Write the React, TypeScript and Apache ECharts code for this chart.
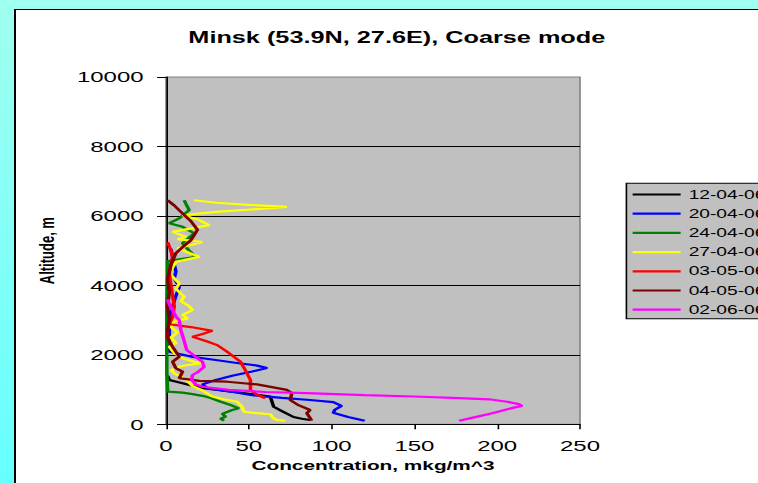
import React, { useEffect, useRef } from "react";
import * as echarts from "echarts";

const seriesNames = ["12-04-06", "20-04-06", "24-04-06", "27-04-06", "03-05-06", "04-05-06", "02-06-06"];
const seriesColors = ["#000000", "#0000FF", "#008000", "#FFFF00", "#FF0000", "#800000", "#FF00FF"];

const xTicks = { min: 0, max: 250, interval: 50 };
const yTicks = { min: 0, max: 10000, interval: 2000 };

// [concentration, altitude]
const s1204 = [[1,1400],[2,1275],[10,1180],[21,1045],[35,970],[50,880],[63,795],[64,650],[65,506],[70,380],[77,210],[82,160],[87,124]];
const s2004 = [[3,5050],[4,4800],[5,4600],[6,4400],[5,4200],[8,3950],[6,3700],[4,3400],[3,3100],[2,2800],[2,2500],[1,2200],[2,2090],[15,1950],[30,1850],[45,1750],[55,1690],[61,1620],[52,1520],[40,1400],[30,1275],[22,1150],[25,1040],[38,950],[51,843],[70,760],[87,700],[101,640],[106,530],[102,420],[101,330],[110,210],[120,104]];
const s2404 = [[11,6450],[12,6350],[14,6165],[8,5930],[2,5790],[10,5685],[17,5500],[10,5215],[14,5000],[18,4820],[8,4750],[1,4700],[1,4300],[0.5,3500],[0.5,2500],[0.5,1500],[1,940],[10,910],[16,870],[22,820],[27,756],[33,650],[39,555],[44,460],[40,411],[34,300],[36,220],[33,160],[35,104]];
const s2704 = [[17,6450],[30,6380],[50,6320],[73,6260],[50,6180],[30,6115],[10,6020],[20,5880],[26,5735],[4,5540],[12,5400],[7,5330],[22,5250],[7,5070],[20,4820],[6,4680],[2,4350],[5,4200],[8,4060],[6,3900],[11,3670],[9,3550],[14,3400],[16,3290],[10,3150],[13,3050],[4,2950],[3,2800],[7,2650],[3,2500],[6,2340],[2,2230],[5,2050],[10,1900],[17,1800],[22,1760],[12,1700],[8,1657],[3,1560],[5,1467],[12,1300],[16,1100],[21,1000],[28,800],[35,720],[43,650],[46,500],[47,362],[55,320],[63,290],[65,170],[67,124],[72,104]];
const s0305 = [[1,5240],[3,5000],[4,4820],[3,4600],[2,4350],[3,4000],[4,3700],[5,3400],[4,3100],[2,2880],[15,2800],[28,2690],[22,2600],[16,2520],[24,2400],[31,2280],[38,2050],[45,1800],[48,1550],[51,1275],[51,1100],[51,990],[55,850],[60,750]];
const s0405 = [[1,6450],[5,6300],[10,6070],[15,5850],[19,5600],[15,5300],[10,5100],[6,4930],[3,4600],[1,4200],[2,3800],[1,3400],[2,3000],[1,2700],[1,2480],[4,2230],[8,1945],[4,1800],[6,1610],[10,1515],[8,1330],[20,1250],[37,1226],[55,1150],[73,990],[76,900],[75,700],[80,550],[87,411],[85,325],[88,104]];
const s0206 = [[1,3600],[2,3450],[4,3290],[6,3100],[8,3000],[9,2710],[11,2400],[12.5,2140],[18,1940],[22,1800],[23,1650],[19,1500],[16,1420],[15.5,1280],[18,1150],[22,1080],[38,990],[60,930],[85,895],[120,840],[150,800],[177,756],[195,720],[206,650],[213,580],[215,526],[210,480],[205,420],[197,316],[188,220],[177,104]];

const seriesData = [s1204, s2004, s2404, s2704, s0305, s0405, s0206];

const S = 1.6; // horizontal stretch of the reference
const W = 758;
const H = 483;
const FONT = "'Liberation Sans', Arial, sans-serif";

export default function App() {
  const ref = useRef<HTMLDivElement>(null);
  useEffect(() => {
    if (!ref.current) return;
    const chart = echarts.init(ref.current, null, { renderer: "svg" });
    chart.setOption({
      animation: false,
      backgroundColor: "transparent",
      textStyle: { fontFamily: FONT },
      title: {
        text: "Minsk (53.9N, 27.6E), Coarse mode",
        left: 243,
        top: 24,
        textAlign: "center",
        textStyle: { fontFamily: FONT, fontSize: 15.8, fontWeight: "bold", color: "#000" },
      },
      legend: {
        orient: "vertical",
        left: 391.5,
        top: 183.3,
        padding: [5.2, 6, 3, 3.9],
        itemGap: 7.2,
        itemWidth: 30,
        itemHeight: 2.2,
        icon: "rect",
        backgroundColor: "#C0C0C0",
        borderColor: "#000",
        borderWidth: 1,
        borderRadius: 0,
        textStyle: { fontFamily: FONT, fontSize: 12, color: "#000" },
        data: seriesNames,
      },
      grid: {
        left: 166 / S,
        top: 77,
        width: 414 / S,
        height: 347.3,
        show: true,
        backgroundColor: "#C0C0C0",
        borderColor: "#808080",
        borderWidth: 1,
      },
      xAxis: {
        type: "value",
        min: xTicks.min,
        max: xTicks.max,
        interval: xTicks.interval,
        name: "Concentration, mkg/m^3",
        nameLocation: "middle",
        nameGap: 35,
        nameTextStyle: { fontFamily: FONT, fontSize: 13, fontWeight: "bold", color: "#000" },
        axisLine: { show: true, lineStyle: { color: "#000", width: 1 } },
        axisTick: { show: true, length: 5, lineStyle: { color: "#000" } },
        axisLabel: { fontFamily: FONT, fontSize: 15, color: "#000", margin: 14, formatter: (v: number) => String(v) },
        splitLine: { show: false },
      },
      yAxis: {
        type: "value",
        min: yTicks.min,
        max: yTicks.max,
        interval: yTicks.interval,
        name: "Altitude, m",
        nameLocation: "middle",
        nameGap: 68,
        nameTextStyle: { fontFamily: FONT, fontSize: 13, fontWeight: "bold", color: "#000" },
        axisLine: { show: true, lineStyle: { color: "#000", width: 1 } },
        axisTick: { show: true, length: 5.6, lineStyle: { color: "#000" } },
        axisLabel: { fontFamily: FONT, fontSize: 15, color: "#000", margin: 14, formatter: (v: number) => String(v) },
        splitLine: { show: true, showMinLine: false, showMaxLine: false, lineStyle: { color: "#000", width: 1 } },
      },
      series: seriesNames.map((name, i) => ({
        name,
        type: "line",
        data: seriesData[i],
        symbol: "none",
        smooth: false,
        lineStyle: { color: seriesColors[i], width: 2.2 },
        itemStyle: { color: seriesColors[i] },
      })),
    });
    return () => chart.dispose();
  }, []);

  return (
    <div
      style={{
        position: "fixed",
        left: 0,
        top: 0,
        width: W,
        height: H,
        overflow: "hidden",
        background: "linear-gradient(#a0fff0, #66ffff)",
      }}
    >
      <div
        style={{
          position: "absolute",
          left: 14,
          top: 9,
          width: W,
          height: H,
          background: "#fff",
          borderTop: "1px solid #000",
          borderLeft: "2px solid #000",
        }}
      />
      <div
        ref={ref}
        style={{
          position: "absolute",
          left: 0,
          top: 0,
          width: W / S,
          height: H,
          transform: `scaleX(${S})`,
          transformOrigin: "0 0",
        }}
      />
    </div>
  );
}
